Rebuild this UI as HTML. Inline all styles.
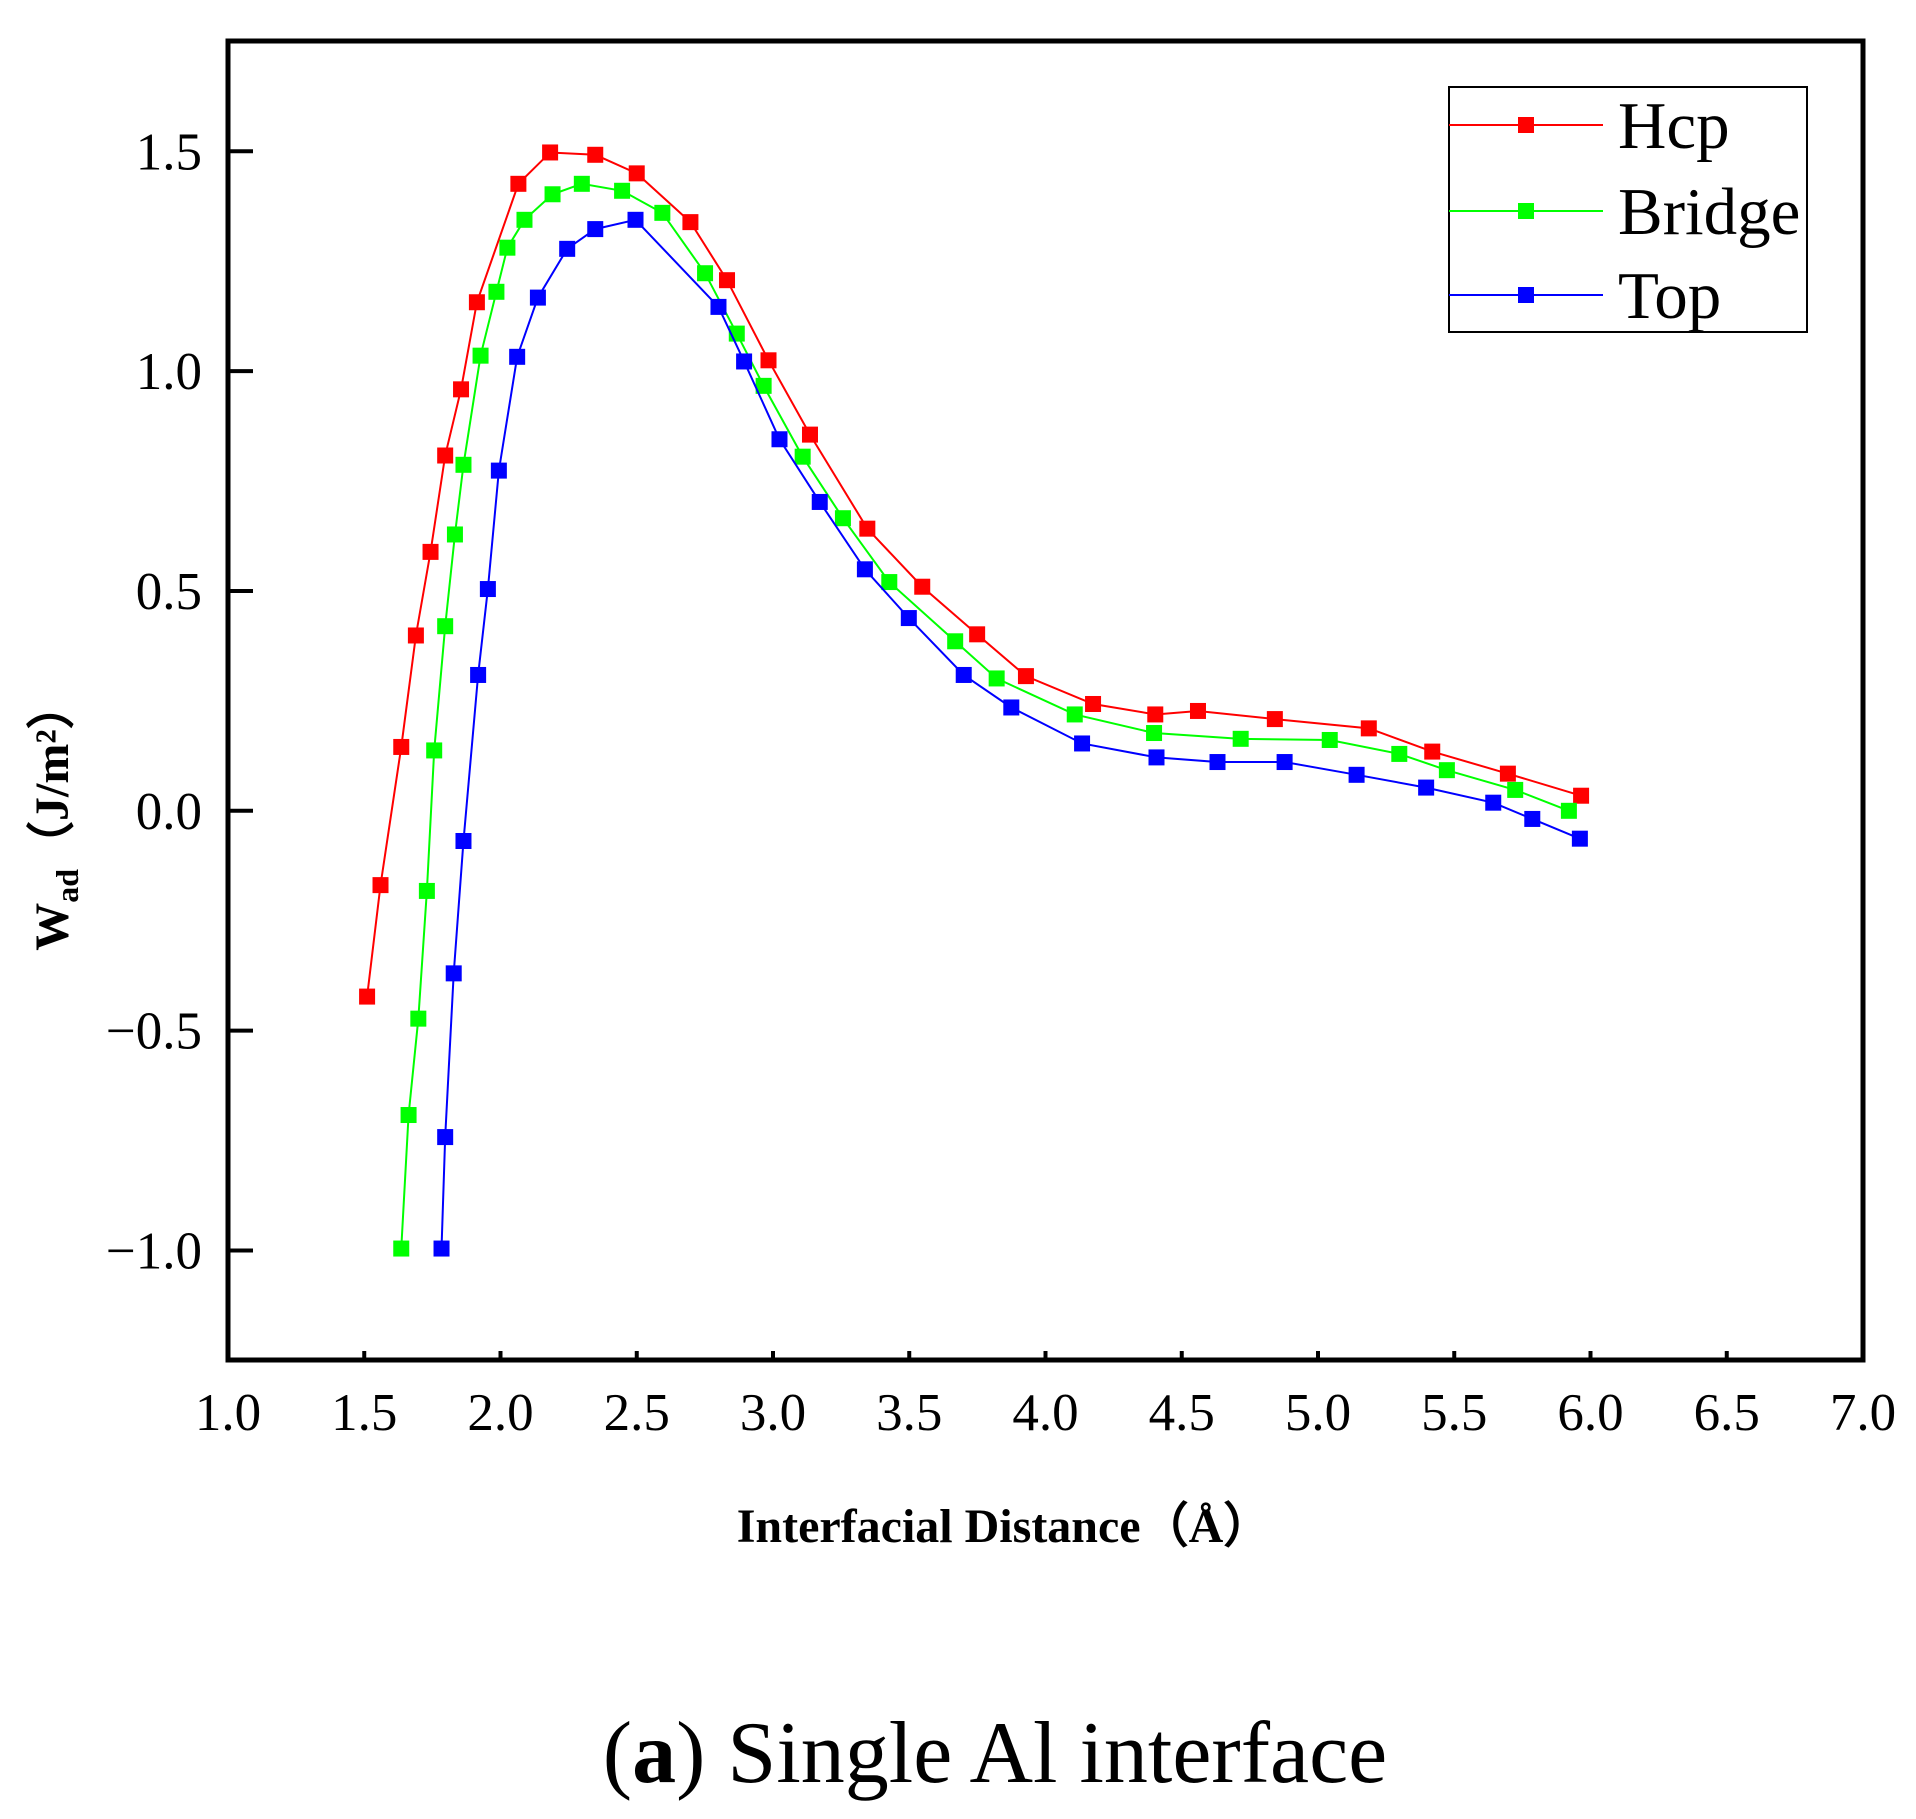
<!DOCTYPE html>
<html><head><meta charset="utf-8">
<style>html,body{margin:0;padding:0;background:#fff}svg{display:block}</style>
</head><body>
<svg id="s" xmlns="http://www.w3.org/2000/svg" width="1916" height="1819" viewBox="0 0 1916 1819" font-family="'Liberation Serif', serif">
<rect x="0" y="0" width="1916" height="1819" fill="#fff"/>
<g id="ticks" stroke="#000" stroke-width="4"></g>
<g id="data"></g>
<rect x="228" y="41" width="1635" height="1319" fill="none" stroke="#000" stroke-width="5"/>
<g id="lbl" font-size="53" fill="#000"></g>
<g id="leg"></g>
<text x="1004" y="1542" font-size="48" font-weight="bold" text-anchor="middle">Interfacial Distance（Å）</text>
<text transform="translate(68,816) rotate(-90)" font-size="48" font-weight="bold" text-anchor="middle">W<tspan font-size="32" dy="10">ad</tspan><tspan dy="-10">（J/m²）</tspan></text>
<text x="995" y="1782" font-size="88" text-anchor="middle">(<tspan font-weight="bold">a</tspan>) Single Al interface</text>
</svg>
<script>
var NS="http://www.w3.org/2000/svg";
function el(p,t,a,txt){var e=document.createElementNS(NS,t);for(var k in a)e.setAttribute(k,a[k]);if(txt)e.textContent=txt;p.appendChild(e);return e;}
function X(x){return 228+(x-185)*1.2201;}
function Y(y){return 41+(y-35)*1.1611;}
var tk=document.getElementById('ticks'),lb=document.getElementById('lbl');
for(var i=0;i<=12;i++){var v=1+i*0.5,x=228+(1635/6)*(v-1);
 if(i>0&&i<12)el(tk,'line',{x1:x,y1:1360,x2:x,y2:1351});
 el(lb,'text',{x:x,y:1430,'text-anchor':'middle'},v.toFixed(1));}
var yv=[1.5,1.0,0.5,0.0,-0.5,-1.0];
yv.forEach(function(v){var y=Y(698-378.67*v);
 el(tk,'line',{x1:228,y1:y,x2:253,y2:y});
 el(lb,'text',{x:202,y:y+18,'text-anchor':'end'},(v<0?'−':'')+Math.abs(v).toFixed(1));});
var S=[
['#ff0000',[[299,858],[310,762],[327,643],[339,547],[351,475],[363,392],[376,335],[389,260],[423,158],[449,131],[486,133],[520,149],[564,191],[594,241],[628,310],[662,374],[709,455],[754,505],[799,546],[839,582],[894,606],[945,615],[980,612],[1043,619],[1120,627],[1172,647],[1234,666],[1294,685]]],
['#00ff00',[[327,1075],[333,960],[341,877],[348,767],[354,646],[363,539],[371,460],[378,400],[392,306],[405,251],[414,213],[428,189],[451,167],[475,158],[508,164],[541,183],[576,235],[602,287],[624,332],[656,393],[689,446],[727,501],[781,552],[815,584],[879,615],[944,631],[1015,636],[1088,637],[1145,649],[1184,663],[1240,680],[1284,698]]],
['#0000ff',[[360,1075],[363,979],[370,838],[378,724],[390,581],[398,507],[407,405],[422,307],[439,256],[463,214],[486,197],[519,189],[587,264],[608,311],[637,378],[670,432],[707,490],[743,532],[788,581],[827,609],[885,640],[946,652],[996,656],[1051,656],[1110,667],[1167,678],[1222,691],[1254,705],[1293,722]]]];
var d=document.getElementById('data');
S.forEach(function(s){var pts=s[1].map(function(p){return X(p[0])+','+Y(p[1]);}).join(' ');
 el(d,'polyline',{points:pts,fill:'none',stroke:s[0],'stroke-width':2});
 s[1].forEach(function(p){el(d,'rect',{x:X(p[0])-8,y:Y(p[1])-8,width:16,height:16,fill:s[0]});});});
var lg=document.getElementById('leg');
el(lg,'rect',{x:1449,y:87,width:358,height:245,fill:'#fff',stroke:'#000','stroke-width':2});
[['Hcp','#ff0000',125],['Bridge','#00ff00',211],['Top','#0000ff',295]].forEach(function(r){
 el(lg,'line',{x1:1449,y1:r[2],x2:1603,y2:r[2],stroke:r[1],'stroke-width':2});
 el(lg,'rect',{x:1518,y:r[2]-8,width:16,height:16,fill:r[1]});
 el(lg,'text',{x:1618,y:r[2]+23,'font-size':67},r[0]);});
</script>
</body></html>
